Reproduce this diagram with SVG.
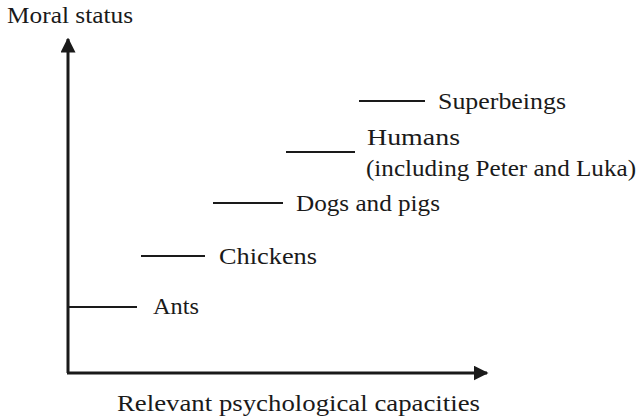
<svg xmlns="http://www.w3.org/2000/svg" width="644" height="419" viewBox="0 0 644 419">
<style>
text{font-family:"Liberation Serif","DejaVu Serif",serif;font-size:24px;fill:#1a1a1a}
.ax{stroke:#1a1a1a;stroke-width:3;fill:none}
.lv{stroke:#1a1a1a;stroke-width:2;fill:none}
</style>
<defs>
<marker id="ah" viewBox="0 0 10 10" refX="9" refY="5" markerWidth="5" markerHeight="5" orient="auto" markerUnits="strokeWidth">
<path d="M0,0 L10,5 L0,10 z" fill="#1a1a1a"/>
</marker>
</defs>
<g id="axes">
<text x="7" y="23" textLength="126" lengthAdjust="spacingAndGlyphs">Moral status</text>
<text x="117" y="411" textLength="363" lengthAdjust="spacingAndGlyphs">Relevant psychological capacities</text>
</g>
<g id="connectors">
<path class="ax" d="M68,373 V39" marker-end="url(#ah)"/>
<path class="ax" d="M67,373 H487" marker-end="url(#ah)"/>
<line class="lv" x1="68" y1="307" x2="137" y2="307"/>
<line class="lv" x1="141" y1="256" x2="205" y2="256"/>
<line class="lv" x1="213" y1="203" x2="283" y2="203"/>
<line class="lv" x1="286" y1="152" x2="355" y2="152"/>
<line class="lv" x1="359" y1="101" x2="425" y2="101"/>
</g>
<g id="ants"><text x="153" y="314" textLength="46" lengthAdjust="spacingAndGlyphs">Ants</text></g>
<g id="chickens"><text x="219" y="264" textLength="98" lengthAdjust="spacingAndGlyphs">Chickens</text></g>
<g id="dogs"><text x="296" y="211" textLength="144" lengthAdjust="spacingAndGlyphs">Dogs and pigs</text></g>
<g id="humans"><text x="367" y="145" textLength="93" lengthAdjust="spacingAndGlyphs">Humans</text>
<text x="366" y="176" textLength="270" lengthAdjust="spacingAndGlyphs">(including Peter and Luka)</text></g>
<g id="superbeings"><text x="438" y="109" textLength="128" lengthAdjust="spacingAndGlyphs">Superbeings</text></g>
</svg>
